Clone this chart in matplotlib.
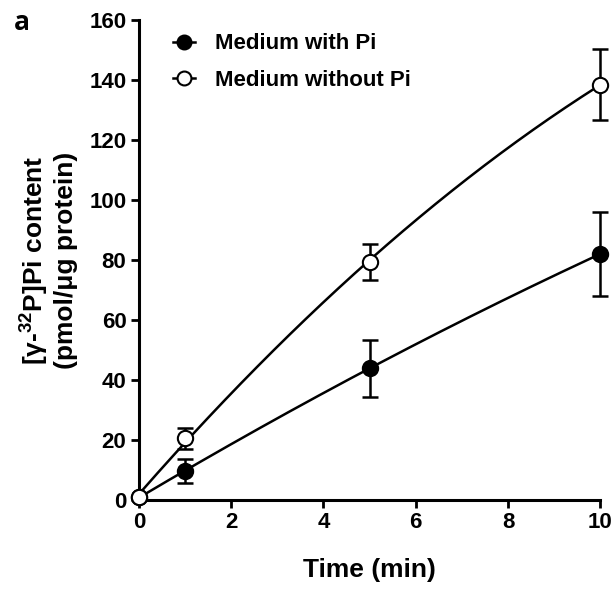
import numpy as np
import matplotlib
matplotlib.use("Agg")
import matplotlib.pyplot as plt

# data
time_min = [0, 1, 5, 10]
with_pi = [1.0, 9.5, 44.0, 82.0]
with_pi_err = [0.0, 4.0, 9.5, 14.0]
without_pi = [1.0, 20.5, 79.5, 138.5]
without_pi_err = [0.0, 3.5, 6.0, 11.8]
labels = ["Medium with Pi", "Medium without Pi"]
x_ticks = [0, 2, 4, 6, 8, 10]
y_ticks = [0, 20, 40, 60, 80, 100, 120, 140, 160]

plt.rcParams["font.family"] = ["Liberation Sans", "DejaVu Sans"]
plt.rcParams["font.weight"] = "bold"
plt.rcParams["mathtext.fontset"] = "custom"
plt.rcParams["mathtext.bf"] = "Liberation Sans:bold"
plt.rcParams["mathtext.rm"] = "Liberation Sans:bold"
plt.rcParams["mathtext.default"] = "bf"

fig = plt.figure(figsize=(6.15, 5.91), dpi=100)
ax = fig.add_axes([0.226, 0.154, 0.75, 0.812])


def draw_series(x, y, err, filled, label):
    # smooth curve: quadratic fit through the measured points
    coef = np.polyfit(x, y, 2)
    xs = np.linspace(min(x), max(x), 200)
    ax.plot(xs, np.polyval(coef, xs), color="black", lw=1.8, zorder=2)
    eb = ax.errorbar(x, y, yerr=err, fmt="none", ecolor="black", elinewidth=1.8,
                     capsize=5.5, capthick=1.8, zorder=3)
    for art in eb.lines[1] + eb.lines[2]:
        art.set_clip_on(False)
    ax.plot(x, y, "o", ms=11, mec="black", mew=1.5,
            mfc="black" if filled else "white", ls="none", zorder=4,
            clip_on=False)
    # legend handle: marker with a line through it
    ax.plot([], [], "o-", ms=10, mec="black", mew=1.5, color="black", lw=1.8,
            mfc="black" if filled else "white", label=label)


draw_series(time_min, with_pi, with_pi_err, True, labels[0])
draw_series(time_min, without_pi, without_pi_err, False, labels[1])

ax.set_xlim(0, 10)
ax.set_ylim(0, 160)
ax.set_xticks(x_ticks)
ax.set_yticks(y_ticks)
for side in ["top", "right"]:
    ax.spines[side].set_visible(False)
for side in ["left", "bottom"]:
    ax.spines[side].set_linewidth(2.2)
ax.tick_params(width=2, length=6, labelsize=16, pad=3)
for lab in ax.get_xticklabels() + ax.get_yticklabels():
    lab.set_fontweight("bold")

ax.set_xlabel("Time (min)", fontsize=19, fontweight="bold", labelpad=18)
ax.set_ylabel("[γ-$^{32}$P]Pi content\n(pmol/μg protein)", fontsize=19,
              fontweight="bold", labelpad=8, linespacing=1.15)

leg = ax.legend(loc="upper left", bbox_to_anchor=(0.045, 1.0), frameon=False,
                fontsize=16, handlelength=1.0, handletextpad=0.9,
                labelspacing=0.7, borderaxespad=0.2)
for t in leg.get_texts():
    t.set_fontweight("bold")

fig.text(0.022, 0.985, "a", fontsize=19, fontweight="bold",
         family=["Open Sans", "DejaVu Sans"], va="top", ha="left")

fig.savefig("out.png", dpi=100)
